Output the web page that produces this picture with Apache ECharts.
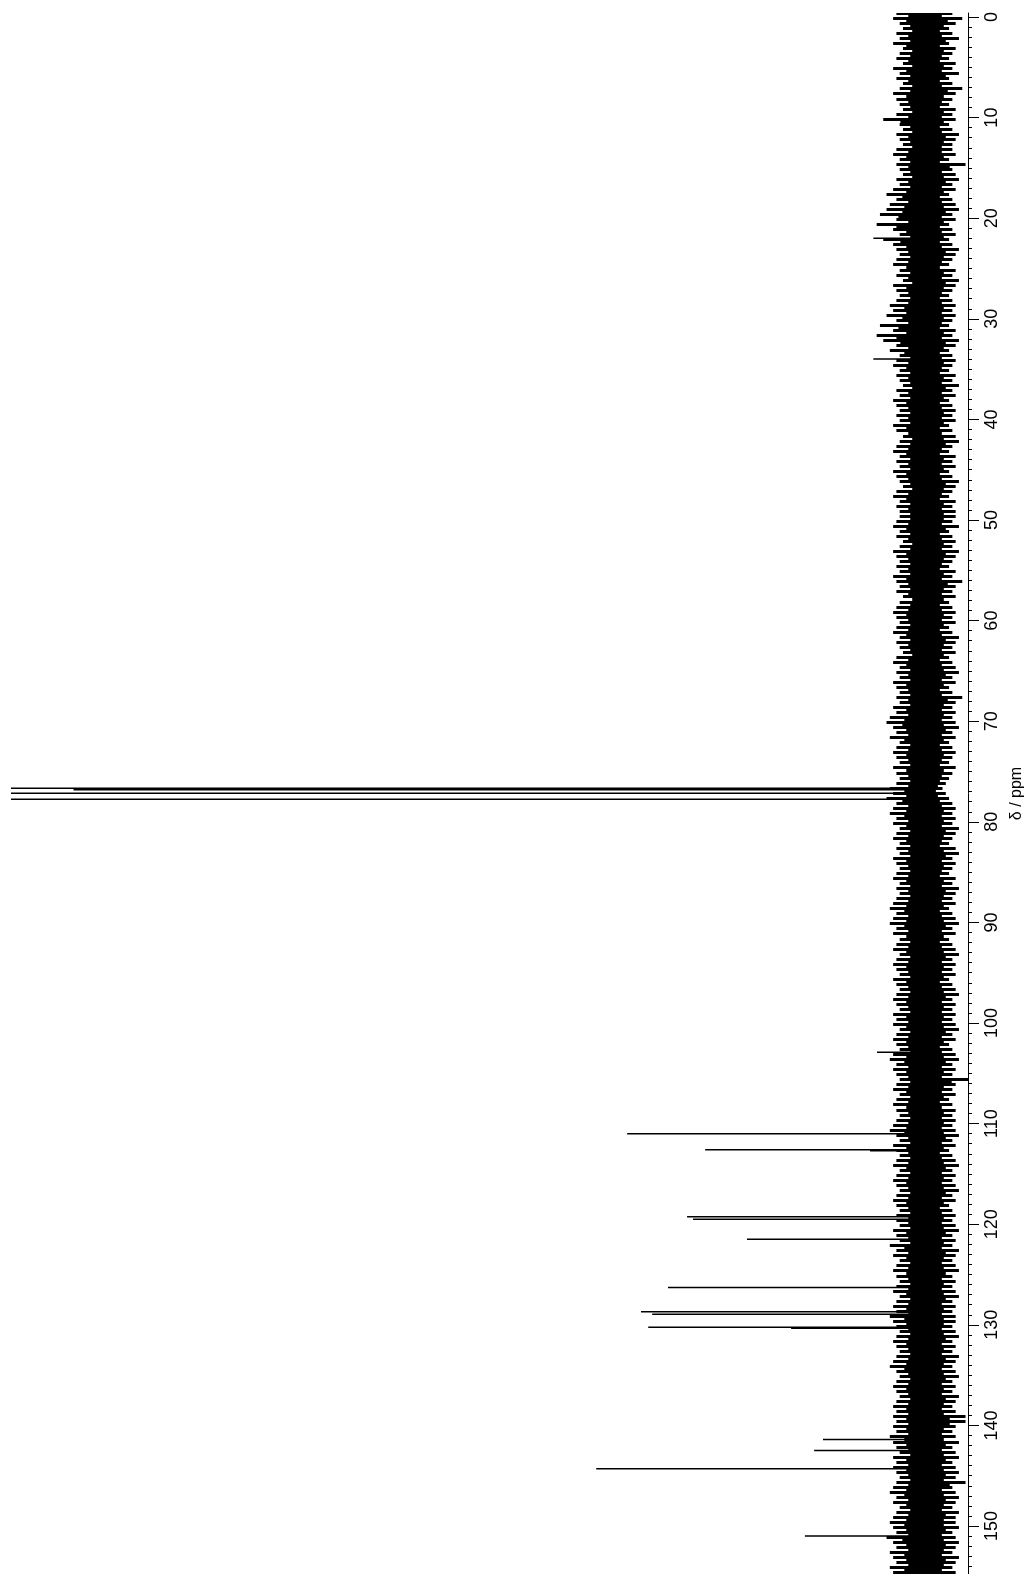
<!DOCTYPE html>
<html>
<head>
<meta charset="utf-8">
<script src="https://cdn.jsdelivr.net/npm/echarts@6/dist/echarts.min.js"></script>
<style>html,body{margin:0;padding:0;background:#fff}#c{width:1024px;height:1574px}</style>
</head>
<body>
<div id="c"></div>
<script>
// Axis ticks (ppm)
const majorTicks = [0,10,20,30,40,50,60,70,80,90,100,110,120,130,140,150];
// Resolved peaks: chemical shift (ppm) and intensity (arbitrary units)
const peakPpm = [22.0, 34.0, 76.67, 76.8, 77.17, 77.76, 102.9, 111.0, 112.6, 112.7, 119.25, 119.5, 121.5, 126.3, 128.7, 128.95, 130.25, 130.35, 141.4, 142.5, 144.3, 151.0];
const peakInt = [16, 16, 400, 259, 400, 400, 14.9, 90.8, 67.1, 17, 72.6, 70.8, 54.4, 78.4, 86.6, 83.2, 84.4, 41, 31.3, 34.0, 100.2, 36.8];
// Baseline noise envelope, one bin per 0.5 ppm starting at -0.5 ppm
const noiseStart = -0.5, noiseStep = 0.5;
const noiseLeft = [
9,10,8,7,9,8,10,7,8,9,7,10,8,9,7,8,10,9,8,7,
9,13,8,7,9,8,7,9,10,8,9,8,7,9,8,10,12,9,11,12,
14,9,15,10,8,13,10,9,8,9,10,8,9,7,10,9,8,9,11,10,
12,9,14,10,15,13,9,11,8,9,10,8,9,8,7,9,8,10,9,8,
9,8,10,9,7,8,9,10,8,9,8,10,9,8,7,9,10,8,9,8,
8,9,10,8,9,7,8,10,9,8,9,8,10,9,8,9,7,8,9,10,
9,8,9,10,8,9,8,7,9,10,8,9,8,10,9,8,9,8,10,9,
11,12,10,9,11,8,9,10,9,8,10,9,8,9,11,10,12,9,10,11,
9,10,8,9,10,8,9,8,10,9,8,9,10,8,9,8,9,10,11,9,
10,11,9,10,8,9,10,8,9,10,9,8,10,9,8,9,10,9,8,10,
9,10,8,9,10,9,8,10,11,9,10,9,8,9,10,8,9,10,9,8,
9,10,11,9,8,10,9,8,9,10,8,9,10,9,8,9,10,9,8,9,
9,8,10,9,8,11,9,10,8,9,10,9,8,9,10,8,9,10,9,11,
10,9,8,9,10,9,8,9,10,11,9,8,9,10,9,8,9,10,9,10,
9,10,9,11,10,9,8,10,9,10,9,8,9,10,11,9,10,8,9,10,
11,10,9,12,10,9,11,10,9,11,10];
const noiseRight = [
-8,-11,-9,-7,-8,-10,-7,-9,-8,-7,-9,-8,-10,-7,-8,-11,-9,-8,-7,-9,
-8,-9,-7,-8,-10,-9,-8,-8,-9,-7,-12,-8,-9,-10,-8,-9,-7,-8,-9,-10,
-8,-9,-7,-8,-9,-7,-8,-10,-9,-8,-7,-9,-8,-10,-9,-8,-7,-8,-9,-8,
-9,-8,-7,-9,-8,-10,-9,-7,-8,-9,-8,-7,-9,-8,-10,-8,-9,-7,-8,-9,
-8,-9,-7,-8,-9,-10,-8,-7,-9,-8,-9,-7,-8,-10,-9,-8,-7,-9,-8,-9,
-9,-8,-10,-7,-8,-9,-8,-10,-9,-8,-7,-9,-8,-11,-9,-8,-9,-7,-8,-9,
-8,-9,-7,-8,-10,-9,-8,-9,-7,-8,-9,-10,-8,-9,-7,-8,-11,-9,-8,-9,
-8,-9,-10,-8,-9,-7,-8,-9,-8,-7,-9,-8,-7,-6,-5,-6,-7,-8,-9,-8,
-9,-8,-10,-9,-8,-7,-9,-10,-8,-9,-8,-7,-9,-8,-10,-9,-8,-9,-7,-8,
-9,-10,-8,-9,-7,-8,-9,-10,-8,-9,-8,-9,-7,-8,-9,-10,-8,-9,-8,-9,
-8,-9,-10,-8,-9,-7,-8,-9,-10,-8,-9,-8,-13,-9,-8,-9,-7,-8,-9,-8,
-9,-8,-9,-10,-8,-9,-7,-8,-9,-10,-8,-9,-8,-9,-10,-8,-9,-7,-8,-9,
-8,-9,-10,-8,-9,-8,-10,-9,-8,-9,-10,-8,-9,-8,-9,-10,-8,-9,-8,-9,
-9,-8,-9,-10,-8,-9,-8,-10,-9,-8,-9,-10,-8,-9,-8,-10,-9,-8,-9,-12,
-12,-9,-8,-9,-10,-8,-9,-10,-8,-9,-10,-9,-12,-8,-9,-10,-9,-8,-10,-9,
-9,-10,-8,-9,-10,-9,-8,-10,-9,-8,-9];

const minorTicks = [];
for (let t = 0; t <= 154; t++) minorTicks.push(t);

const noiseData = noiseLeft.map((l, i) => [noiseStart + i * noiseStep, noiseStart + (i + 1) * noiseStep, l, noiseRight[i]]);
const peakData = peakPpm.map((p, i) => [p, peakInt[i]]);

const FONT = "'Liberation Sans', Arial, sans-serif";
const chart = echarts.init(document.getElementById('c'), null, {renderer: 'canvas'});
const yMin = -0.4, yMax = 154.77;
chart.setOption({
  animation: false,
  backgroundColor: '#fff',
  grid: {left: 11, right: 56, top: 13, bottom: 0, containLabel: false, outerBoundsMode: 'none'},
  xAxis: {
    type: 'value', inverse: true, min: -12.75, max: 278,
    axisLine: {show: false, onZero: false}, axisTick: {show: false},
    axisLabel: {show: false}, splitLine: {show: false}
  },
  yAxis: [{
    type: 'value', position: 'right', inverse: true, min: yMin, max: yMax,
    axisLine: {show: true, onZero: false, lineStyle: {color: '#000', width: 1}},
    axisTick: {show: true, customValues: majorTicks, length: 11, lineStyle: {color: '#000', width: 1}},
    axisLabel: {show: true, customValues: majorTicks, rotate: 90, margin: 15, fontSize: 18, color: '#000', fontFamily: FONT},
    splitLine: {show: false},
    name: 'δ / ppm', nameLocation: 'middle', nameRotate: 90, nameGap: 25,
    nameTextStyle: {fontSize: 16, color: '#000', fontFamily: FONT}
  }, {
    type: 'value', position: 'right', inverse: true, min: yMin, max: yMax, offset: 0,
    axisLine: {show: false, onZero: false},
    axisTick: {show: true, customValues: minorTicks, length: 4, lineStyle: {color: '#000', width: 1}},
    axisLabel: {show: false}, splitLine: {show: false}
  }],
  series: [{
    type: 'custom', yAxisIndex: 0, clip: true,
    encode: {x: [2, 3], y: [0, 1]},
    data: noiseData,
    renderItem: function (params, api) {
      const l = api.value(2), r = api.value(3);
      const a = api.coord([l, api.value(0)]);
      const b = api.coord([r, api.value(1)]);
      const ca = api.coord([l * 0.6, api.value(0)]);
      const cb = api.coord([r * 0.6, api.value(1)]);
      const y0 = Math.round(Math.min(a[1], b[1])), y1 = Math.round(Math.max(a[1], b[1]));
      const h = y1 - y0;
      const sh = Math.max(2, Math.round(h / 2));
      return {type: 'group', children: [
        {type: 'rect', shape: {x: ca[0], y: y0, width: cb[0] - ca[0], height: h}, style: {fill: '#000'}},
        {type: 'rect', shape: {x: a[0], y: y0, width: b[0] - a[0], height: sh}, style: {fill: '#000'}}
      ]};
    }
  }, {
    type: 'custom', yAxisIndex: 0, clip: true,
    encode: {x: 1, y: 0},
    data: peakData,
    renderItem: function (params, api) {
      const a = api.coord([0, api.value(0)]);
      const b = api.coord([api.value(1), api.value(0)]);
      return {type: 'line', shape: {x1: a[0], y1: a[1], x2: b[0], y2: b[1]}, style: {stroke: '#000', lineWidth: 1.5}};
    }
  }]
});
</script>
</body>
</html>
